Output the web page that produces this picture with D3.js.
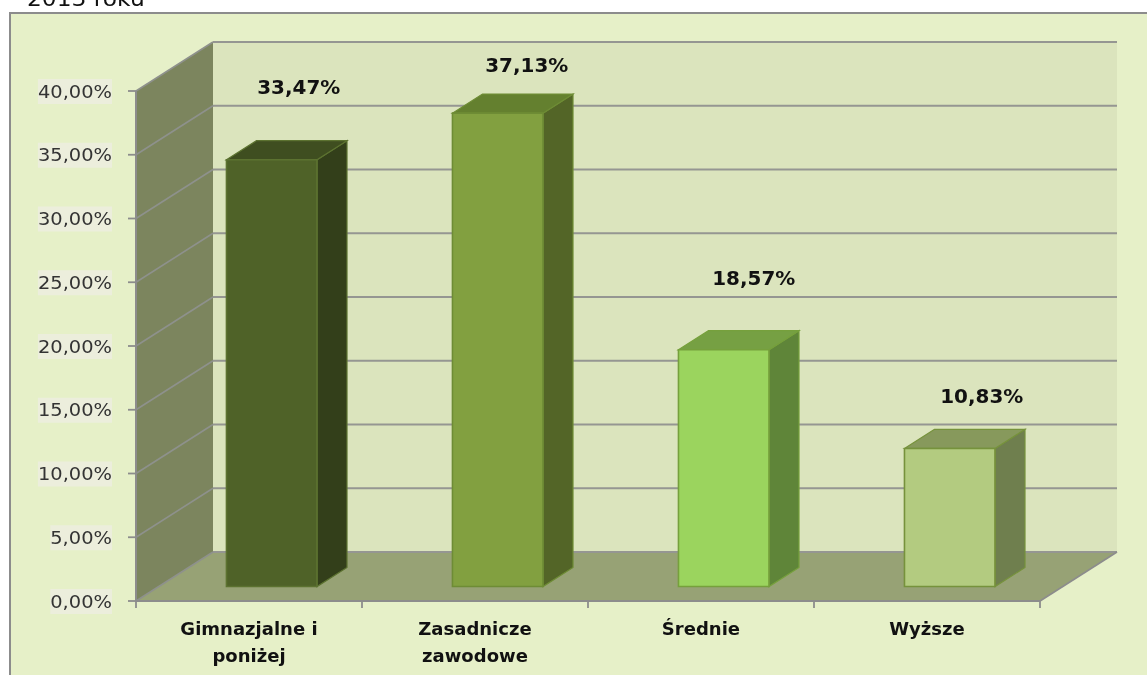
<!DOCTYPE html>
<html><head><meta charset="utf-8">
<script src="https://cdn.jsdelivr.net/npm/d3@7"></script>
<style>html,body{margin:0;padding:0;background:#fff;overflow:hidden}svg{display:block;filter:blur(0.45px)}text{font-family:"DejaVu Sans",Verdana,sans-serif}</style>
</head><body><svg id="c" width="1147" height="675"></svg>
<script>
const categories=[["Gimnazjalne i","poniżej"],["Zasadnicze","zawodowe"],["Średnie"],["Wyższe"]];
const values=[33.47,37.13,18.57,10.83];
const valueLabels=["33,47%","37,13%","18,57%","10,83%"];
const tickValues=[0,5,10,15,20,25,30,35,40];
const tickLabels=["0,00%","5,00%","10,00%","15,00%","20,00%","25,00%","30,00%","35,00%","40,00%"];
const frontColors=["#4F6228","#82A040","#9BD45E","#B3CB80"];
const topColors=["#3F4E20","#64802F","#76A043","#87995C"];
const sideColors=["#333F1A","#536527","#5F8539","#6F7F4E"];
const edgeColors=["#5C7230","#6E8C35","#76A03C","#76923C"];
const labelNudgeX=[27,29,30,32];
const labelNudgeY=[-66,-41,-65,-45];

const svg=d3.select("#c");
const x=d3.scaleBand().domain(d3.range(4)).range([136,1040]);
const y=d3.scaleLinear().domain([0,40]).range([601,91]);
const dx=77,dy=-49;
const barW=90.5, gapF=0.295, depthF=0.39;
const line=d3.line();
const poly=(pts,fill,stroke,sw)=>svg.append("path").attr("d",line(pts)+"Z").attr("fill",fill).attr("stroke",stroke||"none").attr("stroke-width",sw||0);
const stretch=(sel,k)=>{const l=sel.node().getComputedTextLength();sel.attr("textLength",l*k).attr("lengthAdjust","spacingAndGlyphs");return sel;};

svg.append("rect").attr("x",10).attr("y",13).attr("width",1160).attr("height",680).attr("fill","#E6F0C8").attr("stroke","#8C8C8C").attr("stroke-width",2);
stretch(svg.append("text").attr("x",27).attr("y",6).attr("font-size",22).attr("fill","#111").text("2013 roku"),1.06);

const x0=x.range()[0],x1=x.range()[1],yb=y(0),yt=y(40);
poly([[x0+dx,yt+dy],[x1+dx,yt+dy],[x1+dx,yb+dy],[x0+dx,yb+dy]],"#DBE4BD");
poly([[x0,yb],[x0+dx,yb+dy],[x1+dx,yb+dy],[x1,yb]],"#97A275");
poly([[x0,yb],[x0,yt],[x0+dx,yt+dy],[x0+dx,yb+dy]],"#7C855E");

tickValues.forEach(t=>{
  svg.append("path").attr("d",line([[x0+dx,y(t)+dy],[x1+dx,y(t)+dy]])).attr("fill","none").attr("stroke","#959692").attr("stroke-width",2);
  svg.append("path").attr("d",line([[x0,y(t)],[x0+dx,y(t)+dy]])).attr("fill","none").attr("stroke","#8E918C").attr("stroke-width",1.6);
  svg.append("line").attr("x1",x0-8).attr("x2",x0).attr("y1",y(t)).attr("y2",y(t)).attr("stroke","#8C8C8C").attr("stroke-width",1.8);
});
svg.append("line").attr("x1",x0).attr("x2",x0).attr("y1",yt).attr("y2",yb+1).attr("stroke","#8C8C8C").attr("stroke-width",2);
svg.append("line").attr("x1",x0-1).attr("x2",x1).attr("y1",yb).attr("y2",yb).attr("stroke","#8C8C8C").attr("stroke-width",2);
svg.append("line").attr("x1",x1).attr("x2",x1+dx).attr("y1",yb).attr("y2",yb+dy).attr("stroke","#8C8C8C").attr("stroke-width",1.6);
d3.range(5).forEach(i=>{
  const px=x0+i*x.step();
  svg.append("line").attr("x1",px).attr("x2",px).attr("y1",yb).attr("y2",yb+7).attr("stroke","#8C8C8C").attr("stroke-width",1.8);
});

tickValues.forEach((t,i)=>{
  const tx=stretch(svg.append("text").attr("x",112).attr("y",y(t)+6.5).attr("text-anchor","end").attr("font-size",18.5).attr("fill","#333").text(tickLabels[i]),1.05);
  const b=tx.node().getBBox();
  svg.insert("rect","text").attr("x",112-b.width).attr("y",y(t)-12).attr("width",b.width).attr("height",25).attr("fill","#ECEEDC");
});

values.forEach((v,i)=>{
  const bx=x(i)+x.bandwidth()/2-barW/2+gapF*dx;
  const top=y(v)+gapF*dy, bot=yb+gapF*dy;
  const ox=depthF*dx, oy=depthF*dy;
  const e=edgeColors[i];
  poly([[bx+barW,top],[bx+barW+ox,top+oy],[bx+barW+ox,bot+oy],[bx+barW,bot]],sideColors[i],e,1.2);
  poly([[bx,top],[bx+ox,top+oy],[bx+barW+ox,top+oy],[bx+barW,top]],topColors[i],e,1.2);
  poly([[bx,top],[bx+barW,top],[bx+barW,bot],[bx,bot]],frontColors[i],e,1.6);
  stretch(svg.append("text").attr("x",bx+barW/2+labelNudgeX[i]).attr("y",top+labelNudgeY[i]).attr("text-anchor","middle").attr("font-size",19).attr("font-weight","bold").attr("fill","#111").text(valueLabels[i]),1.05);
  categories[i].forEach((s,j)=>{
    stretch(svg.append("text").attr("x",x(i)+x.bandwidth()/2).attr("y",635+j*26.5).attr("text-anchor","middle").attr("font-size",17).attr("font-weight","bold").attr("fill","#111").text(s),1.06);
  });
});
</script></body></html>
